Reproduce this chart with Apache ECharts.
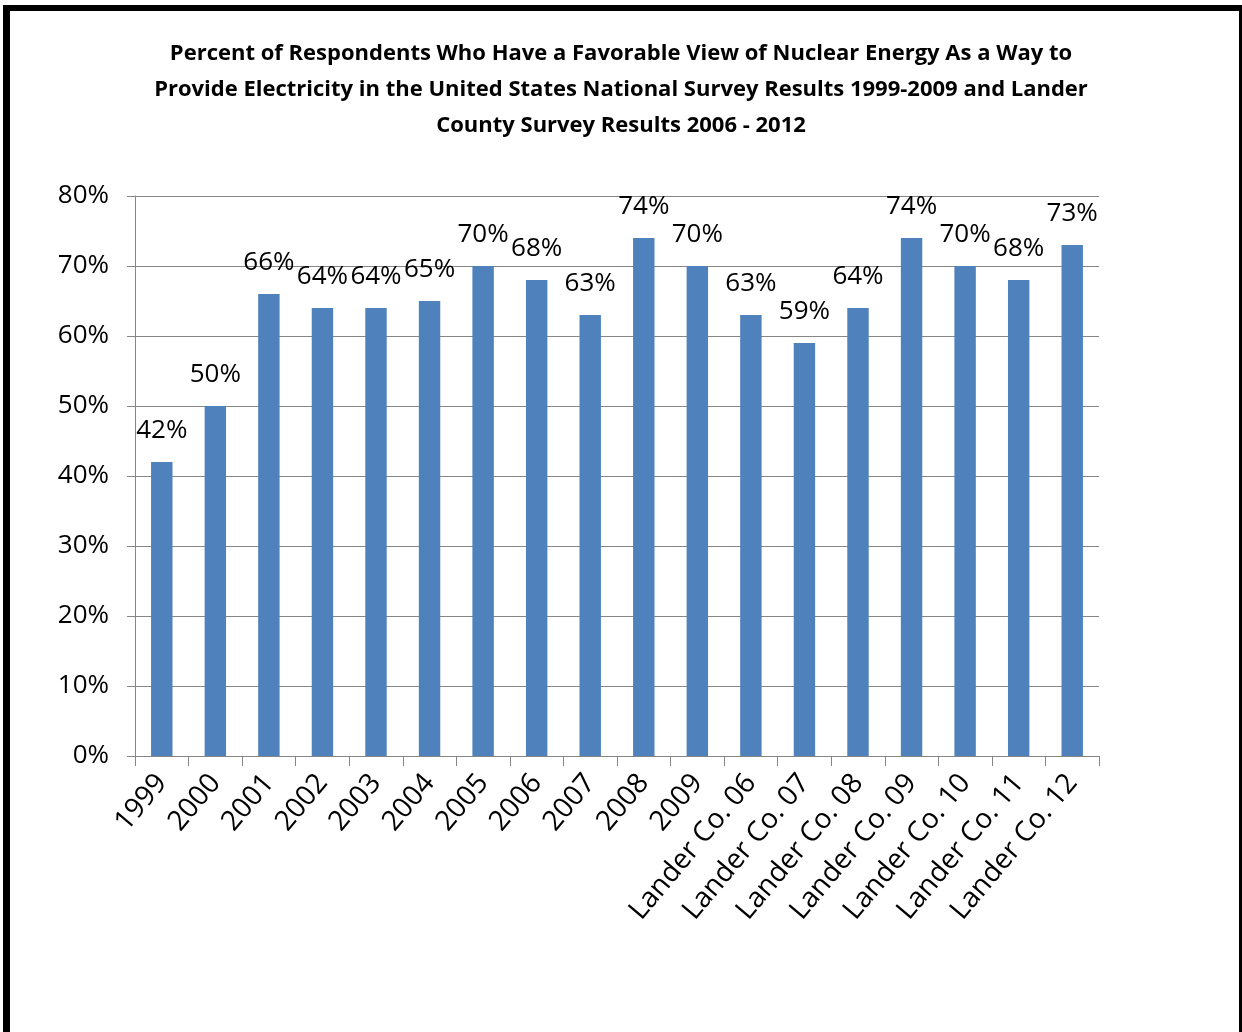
<!DOCTYPE html>
<html>
<head>
<meta charset="utf-8">
<script src="https://cdn.jsdelivr.net/npm/echarts@6/dist/echarts.min.js"></script>
<style>
html,body{margin:0;padding:0;background:#fff;}
#c{width:1242px;height:1032px;}
</style>
</head>
<body>
<div id="c"></div>
<script>
var categories = ['1999','2000','2001','2002','2003','2004','2005','2006','2007','2008','2009',
  'Lander Co. 06','Lander Co. 07','Lander Co. 08','Lander Co. 09','Lander Co. 10','Lander Co. 11','Lander Co. 12'];
var favorable = [42,50,66,64,64,65,70,68,63,74,70,63,59,64,74,70,68,73];
var yTicks = [0,10,20,30,40,50,60,70,80];
var titleText = 'Percent of Respondents Who Have a Favorable View of Nuclear Energy As a Way to\nProvide Electricity in the United States National Survey Results 1999-2009 and Lander\nCounty Survey Results 2006 - 2012';

var chart = echarts.init(document.getElementById('c'), null, {renderer:'canvas'});
var font = 'Open Sans';
chart.setOption({
  backgroundColor:'#fff',
  animation:false,
  title:{
    text: titleText,
    left:'center',
    top:31,
    textStyle:{fontFamily:font, fontWeight:'bold', fontSize:22, lineHeight:36, color:'#000'}
  },
  grid:{left:135, right:143, top:196, bottom:276, containLabel:false},
  xAxis:{
    type:'category',
    data:categories,
    boundaryGap:true,
    axisLine:{lineStyle:{color:'#868686', width:1}},
    axisTick:{show:true, length:10, alignWithLabel:false, lineStyle:{color:'#868686'}},
    axisLabel:{rotate:50, fontFamily:font, fontSize:28, color:'#000', margin:22, interval:0}
  },
  yAxis:{
    type:'value',
    min:yTicks[0], max:yTicks[yTicks.length-1], interval:10,
    axisLine:{show:true, lineStyle:{color:'#868686'}},
    axisTick:{show:true, length:8, lineStyle:{color:'#868686'}},
    axisLabel:{formatter:'{value}%', fontFamily:font, fontSize:26, color:'#000', margin:26},
    splitLine:{show:true, lineStyle:{color:'#868686', width:1}}
  },
  series:[{
    type:'bar',
    data:favorable,
    barWidth:'40%',
    itemStyle:{color:'#4F81BD'},
    label:{show:true, position:'top', distance:18, formatter:'{c}%', fontFamily:font, fontSize:26, color:'#000'}
  }],
  graphic:[
    {type:'rect', shape:{x:3, y:5, width:1239, height:6}, style:{fill:'#000'}, z:100},
    {type:'rect', shape:{x:3, y:5, width:7, height:1027}, style:{fill:'#000'}, z:100},
    {type:'rect', shape:{x:1239, y:5, width:3, height:1027}, style:{fill:'#000'}, z:100}
  ]
});
</script>
</body>
</html>
